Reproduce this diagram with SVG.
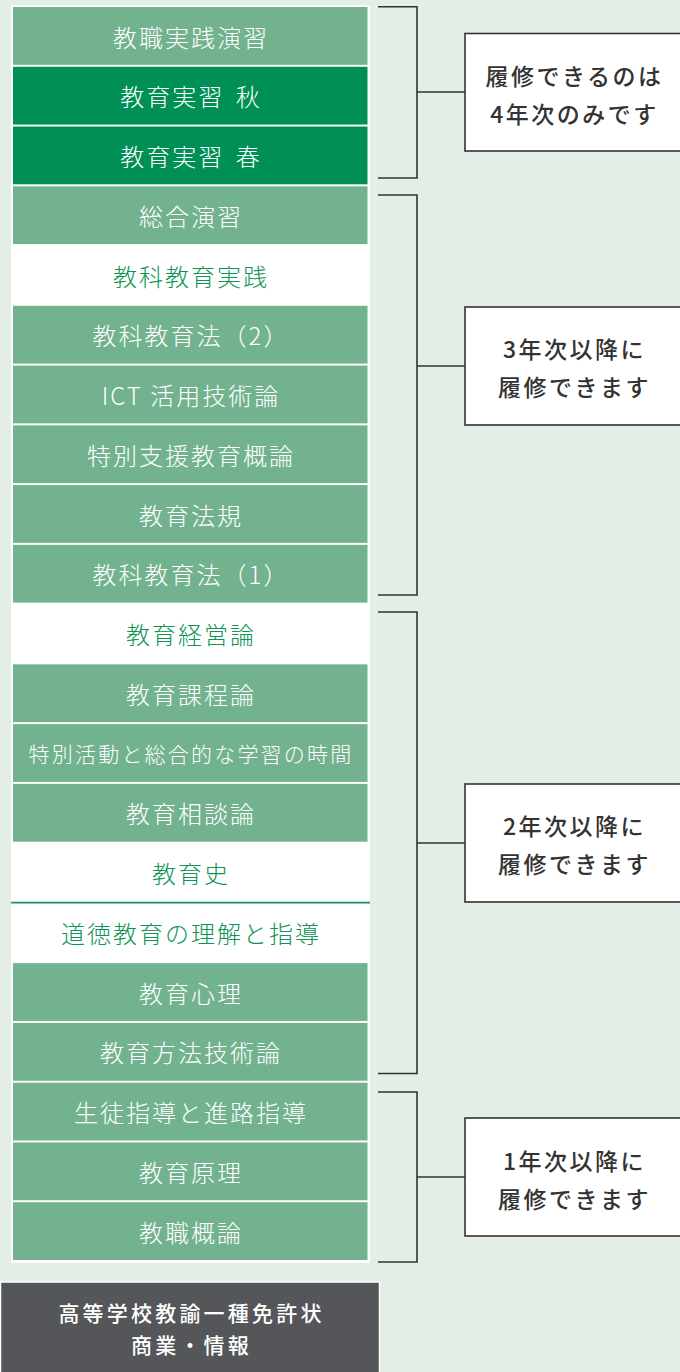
<svg xmlns="http://www.w3.org/2000/svg" width="680" height="1372" viewBox="0 0 680 1372">
<style>
.bg{fill:#e3eee6}
.lt{fill:#72b28f}
.dk{fill:#008f55}
.wh{fill:#ffffff}
.rt{font-family:"Noto Sans CJK JP","Noto Sans",sans-serif;font-size:24px;font-weight:300;letter-spacing:2px;text-anchor:middle}
.tw{fill:#ffffff}
.tg{fill:#0e9455}
.br{fill:none;stroke:#333333;stroke-width:1.6}
.lb{fill:#ffffff;stroke:#333333;stroke-width:1.6}
.lt2{font-family:"Noto Sans CJK JP","Noto Sans",sans-serif;font-size:23px;font-weight:500;letter-spacing:2.5px;text-anchor:middle;fill:#333333}
.ft{font-family:"Noto Sans CJK JP","Noto Sans",sans-serif;font-size:21px;font-weight:500;letter-spacing:3.2px;text-anchor:middle;fill:#ffffff}
</style>
<rect class="bg" x="0" y="0" width="680" height="1372"/>
<rect class="wh" x="11" y="5.5" width="359" height="1257.5"/>
<g id="r0"><rect class="lt" x="13" y="7" width="354.5" height="57.8"/><text class="rt tw" x="191" y="46.5">教職実践演習</text></g>
<g id="r1"><rect class="dk" x="13" y="66.76" width="354.5" height="57.8"/><text class="rt tw" x="191" y="106.3">教育実習<tspan dx="4"> </tspan>秋</text></g>
<g id="r2"><rect class="dk" x="13" y="126.52" width="354.5" height="57.8"/><text class="rt tw" x="191" y="166">教育実習<tspan dx="4"> </tspan>春</text></g>
<g id="r3"><rect class="lt" x="13" y="186.28" width="354.5" height="57.8"/><text class="rt tw" x="191" y="225.7">総合演習</text></g>
<g id="r4"><rect class="wh" x="13" y="246.04" width="354.5" height="57.8"/><text class="rt tg" x="191" y="285.5">教科教育実践</text></g>
<g id="r5"><rect class="lt" x="13" y="305.8" width="354.5" height="57.8"/><text class="rt tw" x="191" y="345.2">教科教育法（2）</text></g>
<g id="r6"><rect class="lt" x="13" y="365.56" width="354.5" height="57.8"/><text class="rt tw" x="191" y="405">ICT 活用技術論</text></g>
<g id="r7"><rect class="lt" x="13" y="425.32" width="354.5" height="57.8"/><text class="rt tw" x="191" y="464.7">特別支援教育概論</text></g>
<g id="r8"><rect class="lt" x="13" y="485.08" width="354.5" height="57.8"/><text class="rt tw" x="191" y="524.5">教育法規</text></g>
<g id="r9"><rect class="lt" x="13" y="544.84" width="354.5" height="57.8"/><text class="rt tw" x="191" y="584.2">教科教育法（1）</text></g>
<g id="r10"><rect class="wh" x="13" y="604.6" width="354.5" height="57.8"/><text class="rt tg" x="191" y="644">教育経営論</text></g>
<g id="r11"><rect class="lt" x="13" y="664.36" width="354.5" height="57.8"/><text class="rt tw" x="191" y="703.8">教育課程論</text></g>
<g id="r12"><rect class="lt" x="13" y="724.12" width="354.5" height="57.8"/><text class="rt tw" x="191" y="762" style="font-size:21px;letter-spacing:2.2px">特別活動と総合的な学習の時間</text></g>
<g id="r13"><rect class="lt" x="13" y="783.88" width="354.5" height="57.8"/><text class="rt tw" x="191" y="823.3">教育相談論</text></g>
<g id="r14"><rect class="wh" x="13" y="843.64" width="354.5" height="57.8"/><text class="rt tg" x="191" y="883">教育史</text></g>
<g id="r15"><rect class="wh" x="13" y="903.4" width="354.5" height="57.8"/><text class="rt tg" x="191" y="942.8">道徳教育の理解と指導</text></g>
<g id="r16"><rect class="lt" x="13" y="963.16" width="354.5" height="57.8"/><text class="rt tw" x="191" y="1002.6">教育心理</text></g>
<g id="r17"><rect class="lt" x="13" y="1022.92" width="354.5" height="57.8"/><text class="rt tw" x="191" y="1062.3">教育方法技術論</text></g>
<g id="r18"><rect class="lt" x="13" y="1082.68" width="354.5" height="57.8"/><text class="rt tw" x="191" y="1122.1">生徒指導と進路指導</text></g>
<g id="r19"><rect class="lt" x="13" y="1142.44" width="354.5" height="57.8"/><text class="rt tw" x="191" y="1181.8">教育原理</text></g>
<g id="r20"><rect class="lt" x="13" y="1202.2" width="354.5" height="57.8"/><text class="rt tw" x="191" y="1241.6">教職概論</text></g>
<line x1="11" y1="902.6" x2="370" y2="902.6" stroke="#1a9158" stroke-width="1.6"/>
<g id="connectors">
<path class="br" d="M378 6.7H417V178H378M417 92H465"/>
<path class="br" d="M378 195H417V595H378M417 366H465"/>
<path class="br" d="M378 612H417V1073.5H378M417 843H465"/>
<path class="br" d="M378 1092H417V1262H378M417 1177H465"/>
</g>
<g id="label4"><rect class="lb" x="465" y="33.5" width="222" height="117.5"/><text class="lt2" x="574.5" y="85">履修できるのは</text><text class="lt2" x="574.5" y="123">4年次のみです</text></g>
<g id="label3"><rect class="lb" x="465" y="307" width="222" height="118"/><text class="lt2" x="574.5" y="358">3年次以降に</text><text class="lt2" x="574.5" y="396">履修できます</text></g>
<g id="label2"><rect class="lb" x="465" y="784" width="222" height="118"/><text class="lt2" x="574.5" y="835">2年次以降に</text><text class="lt2" x="574.5" y="873">履修できます</text></g>
<g id="label1"><rect class="lb" x="465" y="1118" width="222" height="118"/><text class="lt2" x="574.5" y="1170">1年次以降に</text><text class="lt2" x="574.5" y="1208">履修できます</text></g>
<g id="license"><rect x="0.5" y="1282" width="379" height="95" fill="#55565a" stroke="#ffffff" stroke-width="1.5"/><text class="ft" x="191.5" y="1321">高等学校教諭一種免許状</text><text class="ft" x="191.5" y="1353">商業・情報</text></g>
</svg>
